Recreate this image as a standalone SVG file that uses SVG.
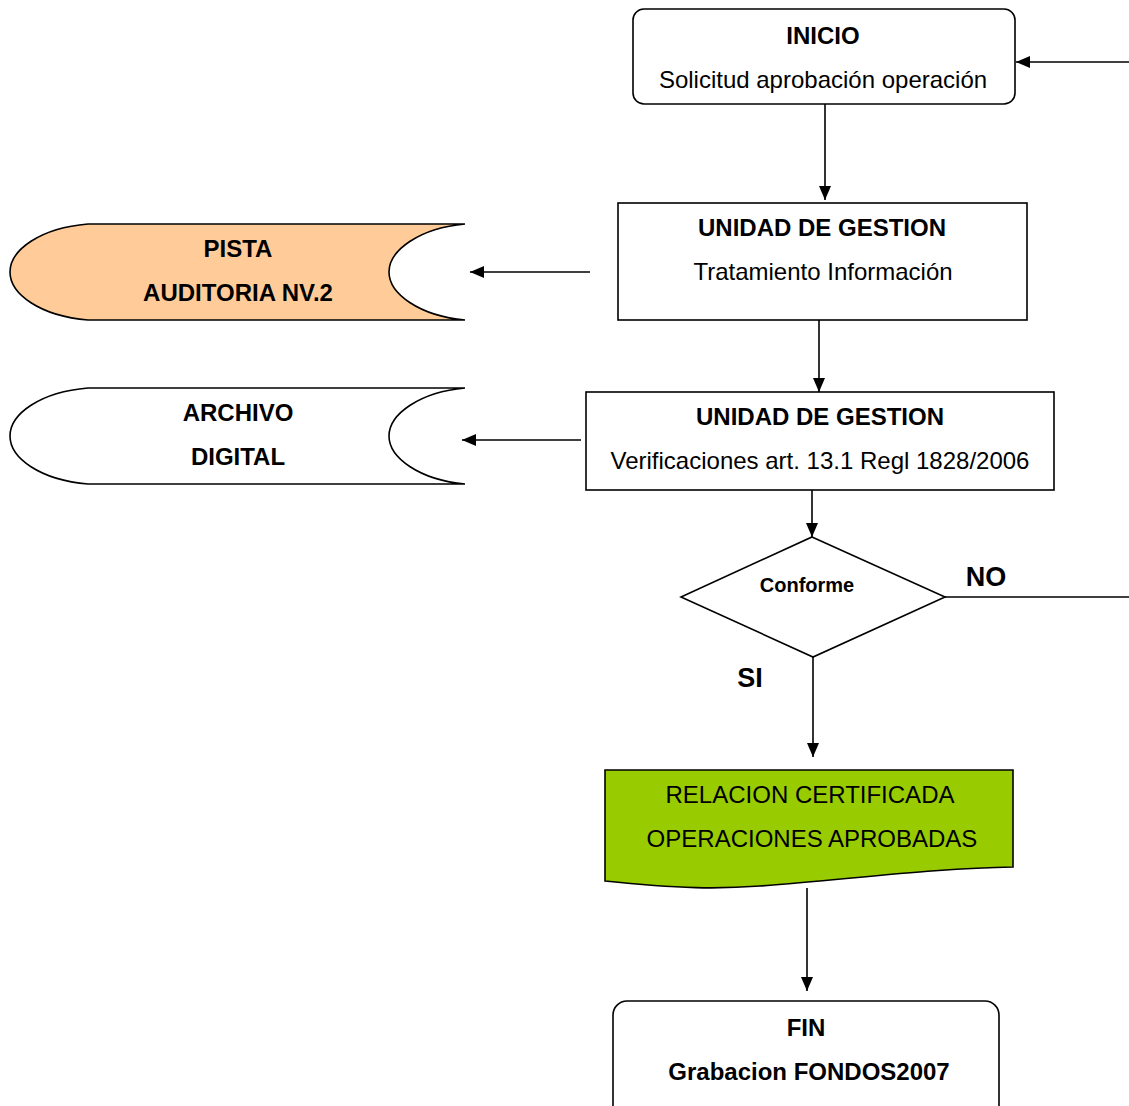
<svg xmlns="http://www.w3.org/2000/svg" width="1129" height="1106" viewBox="0 0 1129 1106">
<style>
.b{fill:#fff;stroke:#000;stroke-width:1.6}
.t{font-family:"Liberation Sans",Arial,sans-serif;font-size:24px;text-anchor:middle;fill:#000}
.bd{font-weight:bold}
.c{fill:none;stroke:#000;stroke-width:1.6}
</style>
<defs>
<marker id="ah" viewBox="0 0 14 12" refX="14" refY="6" markerWidth="14" markerHeight="12" markerUnits="userSpaceOnUse" orient="auto">
<path d="M0,0 L14,6 L0,12 Z" fill="#000"/>
</marker>
</defs>
<rect width="1129" height="1106" fill="#fff"/>
<g id="connectors">
<line class="c" x1="1129" y1="62" x2="1016" y2="62" marker-end="url(#ah)"/>
<line class="c" x1="825" y1="104" x2="825" y2="200" marker-end="url(#ah)"/>
<line class="c" x1="590" y1="272" x2="470" y2="272" marker-end="url(#ah)"/>
<line class="c" x1="819" y1="320" x2="819" y2="392" marker-end="url(#ah)"/>
<line class="c" x1="581" y1="440" x2="462" y2="440" marker-end="url(#ah)"/>
<line class="c" x1="812" y1="490" x2="812" y2="537" marker-end="url(#ah)"/>
<line class="c" x1="945" y1="597" x2="1129" y2="597"/>
<line class="c" x1="813" y1="657" x2="813" y2="757" marker-end="url(#ah)"/>
<line class="c" x1="807" y1="888" x2="807" y2="991" marker-end="url(#ah)"/>
</g>
<g id="inicio">
<rect class="b" x="633" y="9" width="382" height="95" rx="11"/>
<text class="t bd" x="823" y="44">INICIO</text>
<text class="t" x="823" y="88">Solicitud aprobación operación</text>
</g>
<g id="unidad1">
<rect class="b" x="618" y="203" width="409" height="117"/>
<text class="t bd" x="822" y="236">UNIDAD DE GESTION</text>
<text class="t" x="823" y="280">Tratamiento Información</text>
</g>
<g id="pista">
<path d="M88,224 H465 C420,228 389,250 389,272 C389,294 420,316 465,320 H88 C40,316 10,294 10,272 C10,250 40,228 88,224 Z" fill="#FFCC99" stroke="#000" stroke-width="1.6"/>
<text class="t bd" x="238" y="257">PISTA</text>
<text class="t bd" x="238" y="301">AUDITORIA NV.2</text>
</g>
<g id="unidad2">
<rect class="b" x="586" y="392" width="468" height="98"/>
<text class="t bd" x="820" y="425">UNIDAD DE GESTION</text>
<text class="t" x="820" y="469">Verificaciones art. 13.1 Regl 1828/2006</text>
</g>
<g id="archivo">
<path d="M88,388 H465 C420,392 389,414 389,436 C389,458 420,480 465,484 H88 C40,480 10,458 10,436 C10,414 40,392 88,388 Z" fill="#fff" stroke="#000" stroke-width="1.6"/>
<text class="t bd" x="238" y="421">ARCHIVO</text>
<text class="t bd" x="238" y="465">DIGITAL</text>
</g>
<g id="conforme">
<polygon class="b" points="812,537 945,597 813,657 681,597"/>
<text class="t bd" x="807" y="592" style="font-size:20px">Conforme</text>
</g>
<text class="t bd" x="986" y="586" style="font-size:27px">NO</text>
<text class="t bd" x="750" y="687" style="font-size:27px">SI</text>
<g id="relacion">
<path d="M605,770 H1013 V867 C940,868 860,878 760,886 C720,889 680,889 605,881 Z" fill="#99CC00" stroke="#000" stroke-width="1.6"/>
<text class="t" x="810" y="803">RELACION CERTIFICADA</text>
<text class="t" x="812" y="847">OPERACIONES APROBADAS</text>
</g>
<g id="fin">
<rect class="b" x="613" y="1001" width="386" height="120" rx="14"/>
<text class="t bd" x="806" y="1036">FIN</text>
<text class="t bd" x="809" y="1080">Grabacion FONDOS2007</text>
</g>
</svg>
